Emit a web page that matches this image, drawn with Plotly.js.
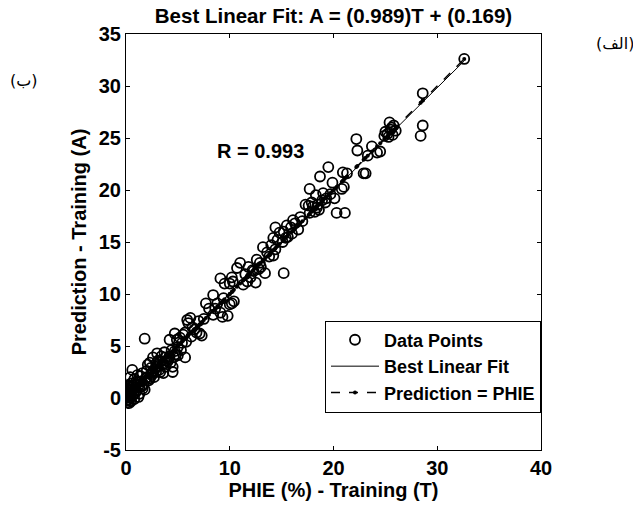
<!DOCTYPE html>
<html>
<head>
<meta charset="utf-8">
<script src="https://cdn.plot.ly/plotly-3.0.1.min.js"></script>
<style>html,body{margin:0;padding:0;background:#fff;}#chart{width:633px;height:506px;}</style>
</head>
<body>
<div id="chart"></div>
<script>
// Target values T (PHIE %, training) and network predictions A
const targetT = [
  32.6, 28.6, 28.6, 28.4,
  25.2, 25.5, 25.8, 25.4, 25.0, 25.7, 26.0, 25.3, 25.6, 24.9,
  22.2, 22.3, 23.7, 23.3, 24.5, 24.2,
  19.5, 18.7, 20.9, 21.3, 22.9, 23.1, 19.9, 20.8, 17.7, 20.1, 19.0, 21.0,
  20.3, 21.1,
  17.9, 17.3, 18.4, 17.7, 18.0, 18.2, 17.6, 18.6,
  18.5, 18.9, 19.3, 18.3, 19.7, 19.2,
  16.8, 16.1, 15.5, 14.4, 14.8, 14.2, 15.1, 15.9, 16.3, 15.2, 14.6, 15.6, 16.6, 17.0,
  14.0, 14.4, 13.8, 15.4, 16.0,
  13.2, 14.2, 12.6, 13.4, 15.2, 12.2, 13.6, 12.9, 13.0,
  11.5, 12.0, 12.3, 12.8,
  11.0, 10.7, 11.8, 10.2, 9.1, 9.5, 10.3, 11.3, 11.7, 12.5, 10.0,
  8.4, 7.7, 8.8, 10.2, 10.0, 9.4, 8.4, 9.1, 9.8, 9.3, 8.0, 8.6, 10.4,
  5.9, 6.4, 7.3, 5.7, 5.4, 5.7, 6.2, 6.0, 7.1, 4.7, 4.2, 5.0, 4.7, 5.2,
  5.5, 6.3, 6.6, 7.0, 7.5, 6.8, 5.8, 4.9,
  1.8,
  3.0, 2.3, 3.3, 3.8, 4.5, 4.5, 3.6, 2.6, 2.1, 0.6, 1.8, 4.0, 3.5, 2.8, 2.5, 3.1, 4.2, 4.8,
  2.0, 1.5, 1.2, 0.9, 0.5, 0.3, 0.2, 0.1, 0.4, 0.7, 1.0, 0.2, 0.5, 1.4, 1.7, 2.2, 2.6, 3.0,
  0.1, 0.3, 0.8, 1.1, 0.6, 0.2, 0.0, 0.3, 0.8, 1.3, 1.9, 2.4, 3.4, 3.8, 4.3, 5.0, 4.4, 3.7,
  2.9, 2.0, 1.6, 1.0, 0.4, 0.0, 0.1, 0.5, 1.2, 1.6, 2.3, 2.7, 3.2, 3.9, 4.6, 5.3,
  0.2, 0.4, 0.6, 0.9, 1.3, 1.5, 0.3, 0.7, 1.1, 0.0, 2.5, 2.9, 3.3, 3.6, 4.1
];
const predictionA = [
  32.6, 29.3, 26.2, 25.2,
  25.4, 25.8, 26.2, 26.5, 25.6, 25.3, 25.7, 25.1, 26.0, 25.2,
  24.9, 23.8, 24.2, 23.3, 23.7, 23.6,
  22.2, 21.3, 21.7, 21.6, 21.6, 21.6, 20.7, 20.1, 20.1, 19.2, 19.7, 20.3,
  17.8, 17.8,
  18.8, 18.6, 18.3, 17.8, 18.4, 17.9, 18.5, 18.1,
  18.6, 19.0, 19.2, 19.5, 19.6, 18.8,
  17.4, 17.1, 16.6, 16.4, 15.9, 15.4, 15.0, 16.4, 16.8, 16.0, 15.2, 15.5, 16.2, 17.0,
  14.7, 14.3, 13.6, 15.4, 15.8,
  14.5, 13.7, 13.3, 12.0, 12.0, 12.3, 14.0, 13.0, 12.6,
  11.9, 11.6, 12.2, 12.4,
  13.0, 12.5, 12.6, 11.6, 11.5, 11.0, 11.2, 10.9, 11.2, 11.1, 11.0,
  9.9, 9.1, 9.1, 9.1, 9.0, 9.6, 8.0, 8.2, 7.9, 7.8, 8.6, 8.6, 9.3,
  7.5, 6.8, 6.0, 6.3, 5.3, 3.9, 7.7, 7.2, 6.2, 6.2, 5.6, 4.9, 4.5, 5.8,
  6.1, 5.9, 6.6, 7.4, 7.6, 6.3, 5.4, 5.6,
  5.7,
  4.3, 3.4, 2.5, 3.9, 3.0, 2.5, 2.4, 3.9, 3.2, 2.7, 0.8, 3.5, 3.2, 2.8, 2.2, 3.6, 4.0, 4.2,
  2.0, 1.6, 1.2, 1.0, 0.6, 0.3, -0.4, -0.2, 0.0, 0.4, 0.7, 0.9, 1.4, 2.1, 1.3, 1.7, 2.6, 3.0,
  0.1, 1.2, 1.8, 2.2, 0.2, -0.2, 0.5, -0.5, -0.1, 0.4, 1.9, 2.9, 4.0, 3.0, 3.4, 4.1, 4.6, 4.4,
  3.3, 2.6, 2.4, 1.6, 2.0, 1.0, 0.2, -0.3, 0.1, 0.9, 1.9, 2.0, 2.7, 3.6, 3.9, 4.6,
  0.5, 0.8, 1.1, 0.5, 1.0, 1.1, 0.7, 1.2, 1.5, 0.2, 2.4, 2.5, 3.5, 3.3, 3.8
];
const fitSlope = 0.989;
const fitIntercept = 0.169;
const rValue = 0.993;
const xTicks = [0, 10, 20, 30, 40];
const yTicks = [-5, 0, 5, 10, 15, 20, 25, 30, 35];

const tMin = Math.min(...targetT), tMax = Math.max(...targetT);
const sortedT = targetT.slice().sort((a, b) => a - b);

const F = 'Arial, "Liberation Sans", sans-serif';

const traces = [
  {
    x: targetT, y: predictionA, type: 'scatter', mode: 'markers', name: 'Data Points',
    marker: {symbol: 'circle-open', size: 10, color: '#000', line: {width: 1.8, color: '#000'}}
  },
  {
    x: [tMin, tMax], y: [fitSlope * tMin + fitIntercept, fitSlope * tMax + fitIntercept],
    type: 'scatter', mode: 'lines', name: 'Best Linear Fit',
    line: {color: '#000', width: 1}
  },
  {
    x: sortedT, y: sortedT, type: 'scatter', mode: 'lines+markers', name: 'Prediction = PHIE',
    line: {color: '#000', width: 1.5, dash: 'dash'},
    marker: {symbol: 'circle', size: 4, color: '#000'}
  }
];

const axisCommon = {
  showgrid: false, zeroline: false, showline: true, linecolor: '#000', linewidth: 1,
  mirror: 'ticks', ticks: 'inside', ticklen: 4, tickcolor: '#000', tickwidth: 1,
  tickfont: {family: F, size: 20, color: '#000', weight: 'bold'}
};

const layout = {
  width: 633, height: 506,
  margin: {l: 126, r: 92, t: 34, b: 56},
  paper_bgcolor: '#fff', plot_bgcolor: '#fff',
  showlegend: true,
  title: {
    text: 'Best Linear Fit: A = (' + fitSlope + ')T + (' + fitIntercept + ')',
    font: {family: F, size: 20.5, color: '#000', weight: 'bold'},
    x: 0.5, xref: 'paper', xanchor: 'center', y: 1 - 16 / 506, yref: 'container', yanchor: 'middle'
  },
  xaxis: Object.assign({}, axisCommon, {
    range: [0, 40], tickvals: xTicks, ticktext: xTicks.map(String),
    title: {text: 'PHIE (%) - Training (T)', font: {family: F, size: 20, color: '#000', weight: 'bold'}, standoff: 2}
  }),
  yaxis: Object.assign({}, axisCommon, {
    range: [-5, 35], tickvals: yTicks, ticktext: yTicks.map(String),
    title: {text: 'Prediction - Training (A)', font: {family: F, size: 20, color: '#000', weight: 'bold'}, standoff: 6}
  }),
  legend: {
    x: 1, xanchor: 'right', y: 0.09, yanchor: 'bottom',
    bgcolor: '#fff', bordercolor: '#000', borderwidth: 1,
    font: {family: F, size: 18, color: '#000', weight: 'bold'},
    itemwidth: 48, tracegroupgap: 0
  },
  annotations: [
    {x: 13.0, y: 23.75, xref: 'x', yref: 'y', text: 'R = ' + rValue, showarrow: false,
     xanchor: 'center', yanchor: 'middle',
     font: {family: F, size: 20, color: '#000', weight: 'bold'}},
    {x: 1.178, y: 0.976, xref: 'paper', yref: 'paper', text: '(الف)', showarrow: false,
     xanchor: 'center', yanchor: 'middle',
     font: {family: '"DejaVu Sans", "Noto Sans", sans-serif', size: 16, color: '#000'}},
    {x: -0.246, y: 0.889, xref: 'paper', yref: 'paper', text: '(ب)', showarrow: false,
     xanchor: 'center', yanchor: 'middle',
     font: {family: '"DejaVu Sans", "Noto Sans", sans-serif', size: 16, color: '#000'}}
  ]
};

Plotly.newPlot('chart', traces, layout, {displayModeBar: false, staticPlot: true});
</script>
</body>
</html>
